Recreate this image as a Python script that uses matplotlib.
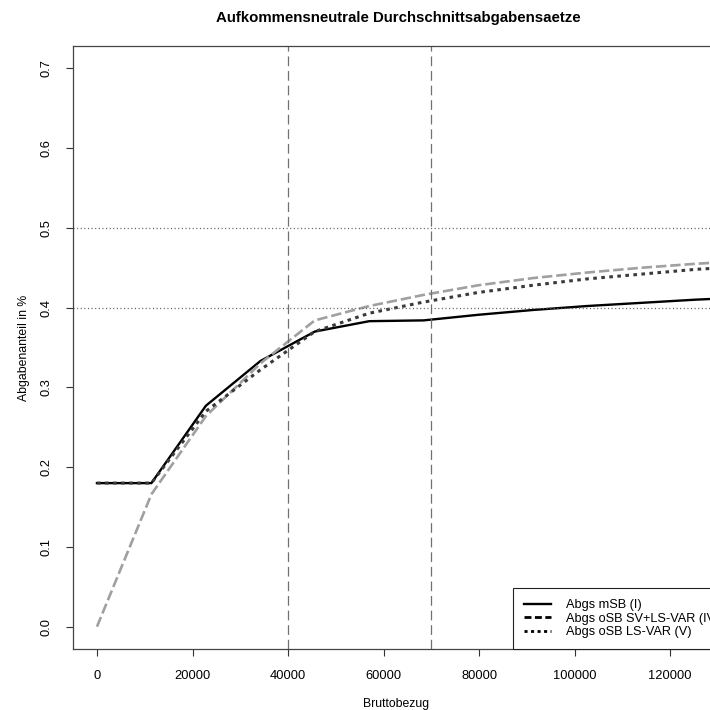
import numpy as np
import matplotlib
matplotlib.use('Agg')
import matplotlib.pyplot as plt
from matplotlib.lines import Line2D

plt.rcParams['font.family'] = ['Liberation Sans', 'DejaVu Sans']
plt.rcParams['lines.scale_dashes'] = False

# Bruttobezug (x-Werte)
brutto = [0, 11400, 22800, 34200, 45600, 57000, 68400, 79800, 91200, 102600, 114000, 125400, 136800]
# Abgabensaetze der drei Varianten
abgs_msb = [0.180, 0.180, 0.277, 0.333, 0.370, 0.383, 0.384, 0.391, 0.397, 0.402, 0.406, 0.410, 0.413]
abgs_osb_iv = [0.000, 0.166, 0.264, 0.330, 0.384, 0.402, 0.416, 0.428, 0.437, 0.444, 0.450, 0.455, 0.459]
abgs_osb_v = [0.180, 0.180, 0.270, 0.322, 0.370, 0.393, 0.407, 0.419, 0.428, 0.436, 0.442, 0.448, 0.452]

legende = ['Abgs mSB (I)', 'Abgs oSB SV+LS-VAR (IV)', 'Abgs oSB LS-VAR (V)']
vlinien = [40000, 70000]
hlinien = [0.4, 0.5]

fig = plt.figure(figsize=(7.1, 7.1), dpi=100)
# Achsen reichen rechts ueber das Bild hinaus (wie im Original abgeschnitten)
ax = fig.add_axes([73 / 710, 61 / 710, 647 / 710, 603 / 710])

ax.plot(brutto, abgs_msb, color='black', lw=1.7)
ax.plot(brutto, abgs_osb_iv, color='#a0a0a0', lw=1.9, dashes=(7.5, 2.8))
ax.plot(brutto, abgs_osb_v, color='#3a3a3a', lw=2.2, dashes=(2.6, 3.2))

for v in vlinien:
    ax.axvline(v, color='#707070', lw=0.9, dashes=(7, 3.5))
for h in hlinien:
    ax.axhline(h, color='#606060', lw=0.9, dashes=(0.8, 1.8))

ax.set_xticks(np.arange(0, 140001, 20000))
ax.set_yticks(np.arange(0, 0.71, 0.1))
ax.set_xticklabels([str(int(t)) for t in np.arange(0, 140001, 20000)])
ax.set_yticklabels(['%.1f' % t for t in np.arange(0, 0.71, 0.1)], rotation=90, va='center')
# Grenzen erst nach den Ticks setzen, sonst erweitert set_xticks die Achse
ax.set_xlim(-5016, 130416)
ax.set_ylim(-0.028, 0.728)
ax.tick_params(direction='out', length=5, width=0.8, labelsize=9.3, pad=10, color='#333333')

for s in ax.spines.values():
    s.set_color('#444444')
    s.set_linewidth(0.9)

ax.set_xlabel('Bruttobezug', fontsize=8.8, labelpad=12)
ax.set_ylabel('Abgabenanteil in %', fontsize=8.8, labelpad=7)
fig.text(398 / 710, 1 - 18 / 710, 'Aufkommensneutrale Durchschnittsabgabensaetze',
         ha='center', va='center', fontsize=10.8, fontweight='bold')

handles = [Line2D([], [], color='black', lw=1.7),
           Line2D([], [], color='black', lw=2, dashes=(5, 2.5)),
           Line2D([], [], color='black', lw=2, dashes=(2.2, 2.5))]
# Legende links bei ca. 513 px verankert, rechts laeuft sie aus dem Bild
leg = ax.legend(handles, legende, loc='lower left', bbox_to_anchor=((513 - 73) / 647, 0),
                borderaxespad=0, fancybox=False,
                fontsize=9.2, handlelength=2.1, handletextpad=1.2, labelspacing=0.12,
                borderpad=0.85, framealpha=1)
leg.get_frame().set_edgecolor('#222222')
leg.get_frame().set_linewidth(0.8)

fig.savefig('out.png', dpi=100)
